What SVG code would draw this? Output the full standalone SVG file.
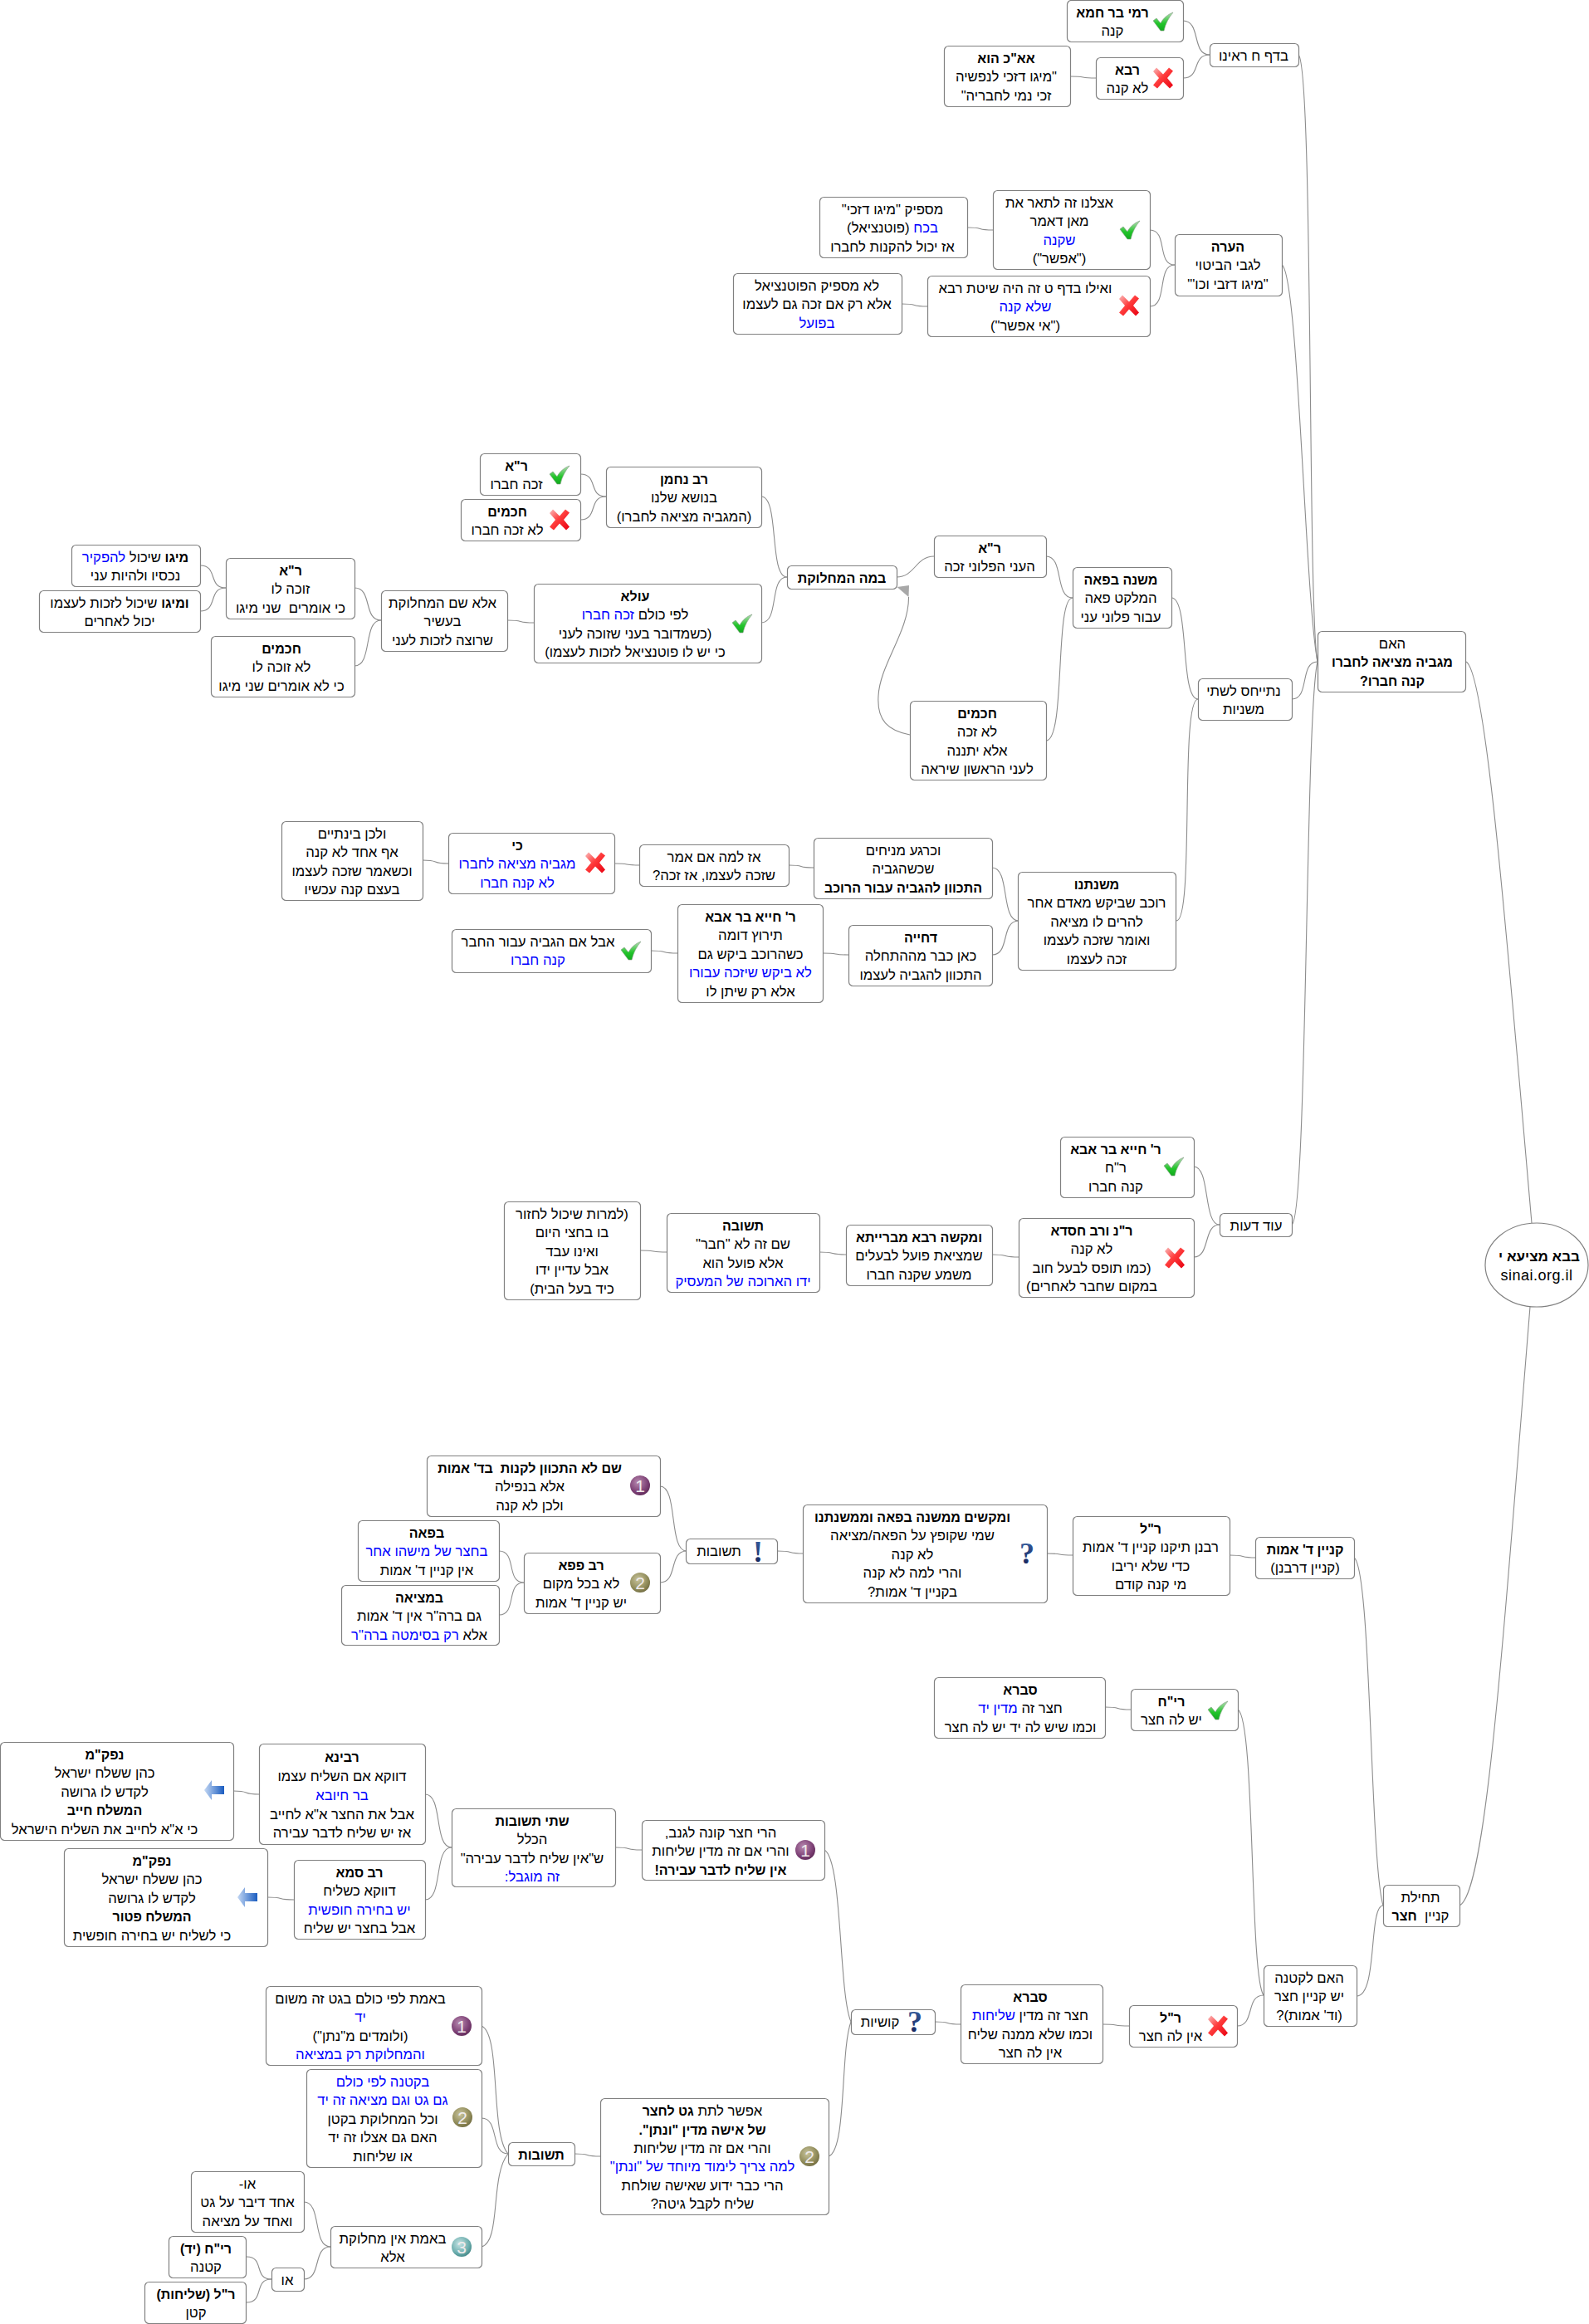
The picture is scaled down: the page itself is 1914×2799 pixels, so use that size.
<svg xmlns="http://www.w3.org/2000/svg" xmlns:xlink="http://www.w3.org/1999/xlink" width="1914" height="2799" viewBox="0 0 1914 2799">
<style>
text{font-family:"Liberation Sans","DejaVu Sans",sans-serif;font-size:16.7px;fill:#000;text-anchor:middle;direction:rtl;white-space:pre}
.b{font-weight:bold;font-size:16px}
.u{fill:#0000ff}
.box{fill:#fff;stroke:#808080;stroke-width:1.2;rx:5px;ry:5px}
.c{fill:none;stroke:#8c8c8c;stroke-width:1.1}
.num{fill:#f0ecec;font-size:21px;direction:ltr}
.q{font-family:"Liberation Serif",serif;font-weight:bold;font-size:36px;fill:url(#gq);direction:ltr}
</style>
<defs>
<linearGradient id="gc" x1="0" y1="0" x2="0" y2="1"><stop offset="0" stop-color="#b8dcb8"/><stop offset=".6" stop-color="#22c52a"/><stop offset="1" stop-color="#12a81e"/></linearGradient>
<linearGradient id="gx" x1="0" y1="0" x2="1" y2="1"><stop offset="0" stop-color="#f9bcbc"/><stop offset=".45" stop-color="#ff3c3c"/><stop offset="1" stop-color="#e80010"/></linearGradient>
<linearGradient id="gq" x1="0" y1="0" x2="0" y2="1"><stop offset="0" stop-color="#3a66a8"/><stop offset="1" stop-color="#101a50"/></linearGradient>
<linearGradient id="ga" x1="0" y1="0" x2="1" y2="0"><stop offset="0" stop-color="#c4d8f4"/><stop offset="1" stop-color="#1a5cc0"/></linearGradient>
<radialGradient id="g1" cx=".4" cy=".35" r=".7"><stop offset="0" stop-color="#b88ab0"/><stop offset=".7" stop-color="#7c3f74"/><stop offset="1" stop-color="#5e2a58"/></radialGradient>
<radialGradient id="g2" cx=".4" cy=".35" r=".7"><stop offset="0" stop-color="#c8c49c"/><stop offset=".7" stop-color="#8f8a58"/><stop offset="1" stop-color="#6f6a40"/></radialGradient>
<radialGradient id="g3" cx=".4" cy=".35" r=".7"><stop offset="0" stop-color="#c6e4e4"/><stop offset=".7" stop-color="#6aacac"/><stop offset="1" stop-color="#3f8484"/></radialGradient>
<path id="check" d="M-12 -1L-8 -4L-3 2C0 -4 6 -9 12 -11C7 -5 3 2 1 11L-3 11Z" fill="url(#gc)" stroke="#7d9a7d" stroke-width=".6"/>
<path id="cross" d="M-12 -8L-8 -12.5L0 -4.5L7 -12.5L12 -8.5L5 0L12 8.5L8 12.5L0 4.5L-7 12.5L-12 8.5L-5 0Z" fill="url(#gx)"/>
<path id="arrow" d="M-12 0L-3 -12V-5H12V5H-3V12Z" fill="url(#ga)"/>
<circle id="c1" r="12" fill="url(#g1)"/>
<circle id="c2" r="12" fill="url(#g2)"/>
<circle id="c3" r="12" fill="url(#g3)"/>
</defs>
<rect width="1914" height="2799" fill="#fff"/>
<g id="connectors">
<path class="c" d="M1425 25C1447 25 1435 66 1457 66"/>
<path class="c" d="M1425 94C1447 94 1435 66 1457 66"/>
<path class="c" d="M1289 92C1311 92 1298 94 1320 94"/>
<path class="c" d="M1385 277C1407 277 1393 319 1415 319"/>
<path class="c" d="M1385 369C1407 369 1393 319 1415 319"/>
<path class="c" d="M1165 274C1187 274 1174 277 1196 277"/>
<path class="c" d="M1086 366C1108 366 1095 369 1117 369"/>
<path class="c" d="M1260 670C1282 670 1270 720 1292 720"/>
<path class="c" d="M1260 892C1284 892 1270 720 1292 720"/>
<path class="c" d="M1411 720C1433 720 1421 842 1443 842"/>
<path class="c" d="M1417 1109C1439 1109 1421 842 1443 842"/>
<path class="c" d="M1556 842C1578 842 1565 797 1587 797"/>
<path class="c" d="M1564 66C1582 80 1575 740 1587 797"/>
<path class="c" d="M1544 319C1564 330 1572 720 1587 797"/>
<path class="c" d="M1556 1475C1575 1465 1572 860 1587 797"/>
<path class="c" d="M1766 797C1790 810 1815 1130 1845 1473"/>
<path class="c" d="M1758 2295C1790 2280 1810 1980 1843 1574"/>
<path class="c" d="M1080 695C1102 695 1103 670 1125 670"/>
<path class="c" d="M917 598C939 598 926 695 948 695"/>
<path class="c" d="M917 750C939 750 926 695 948 695"/>
<path class="c" d="M699 571C721 571 708 598 730 598"/>
<path class="c" d="M699 626C721 626 708 598 730 598"/>
<path class="c" d="M611 747C633 747 621 750 643 750"/>
<path class="c" d="M427 708C449 708 437 747 459 747"/>
<path class="c" d="M427 802C449 802 437 747 459 747"/>
<path class="c" d="M241 681C263 681 250 708 272 708"/>
<path class="c" d="M241 736C263 736 250 708 272 708"/>
<path class="c" d="M1096 885C1070 880 1056 868 1058 838C1060 800 1095 760 1094.5 719"/>
<polygon points="1080.5,707 1095,705 1094.5,719" fill="#a8a8a8"/>
<path class="c" d="M1195 1045C1217 1045 1205 1109 1227 1109"/>
<path class="c" d="M1195 1150C1217 1150 1205 1109 1227 1109"/>
<path class="c" d="M950 1042C972 1042 958 1045 980 1045"/>
<path class="c" d="M740 1040C762 1040 748 1042 770 1042"/>
<path class="c" d="M509 1036C531 1036 518 1040 540 1040"/>
<path class="c" d="M991 1148C1013 1148 1000 1150 1022 1150"/>
<path class="c" d="M784 1145C806 1145 794 1148 816 1148"/>
<path class="c" d="M1438 1405C1458 1405 1449 1475 1469 1475"/>
<path class="c" d="M1438 1514C1458 1514 1449 1475 1469 1475"/>
<path class="c" d="M1195 1511C1215 1511 1207 1514 1227 1514"/>
<path class="c" d="M987 1508C1007 1508 999 1511 1019 1511"/>
<path class="c" d="M771 1506C791 1506 783 1508 803 1508"/>
<path class="c" d="M1631 1876C1652 1890 1650 2240 1666 2295"/>
<path class="c" d="M1634 2404C1660 2404 1648 2295 1666 2295"/>
<path class="c" d="M1491 2059C1512 2070 1505 2380 1522 2403"/>
<path class="c" d="M1490 2440C1512 2440 1500 2403 1522 2403"/>
<path class="c" d="M1481 1873C1503 1873 1491 1876 1513 1876"/>
<path class="c" d="M1261 1871C1283 1871 1270 1873 1292 1873"/>
<path class="c" d="M936 1868C958 1868 946 1871 968 1871"/>
<path class="c" d="M795 1790C817 1790 805 1868 827 1868"/>
<path class="c" d="M795 1906C817 1906 805 1868 827 1868"/>
<path class="c" d="M601 1868C623 1868 609 1906 631 1906"/>
<path class="c" d="M601 1945C623 1945 609 1906 631 1906"/>
<path class="c" d="M1331 2056C1353 2056 1340 2059 1362 2059"/>
<path class="c" d="M993 2228C1015 2240 1010 2400 1025 2435"/>
<path class="c" d="M998 2597C1020 2590 1012 2470 1025 2435"/>
<path class="c" d="M1126 2435C1148 2435 1135 2438 1157 2438"/>
<path class="c" d="M1328 2438C1350 2438 1338 2440 1360 2440"/>
<path class="c" d="M741 2225C763 2225 751 2228 773 2228"/>
<path class="c" d="M512 2161C534 2161 522 2225 544 2225"/>
<path class="c" d="M512 2288C534 2288 522 2225 544 2225"/>
<path class="c" d="M281 2157C303 2157 290 2161 312 2161"/>
<path class="c" d="M322 2285C344 2285 332 2288 354 2288"/>
<path class="c" d="M692 2594C714 2594 701 2597 723 2597"/>
<path class="c" d="M580 2440C604 2450 590 2570 612 2594"/>
<path class="c" d="M580 2551C602 2551 590 2594 612 2594"/>
<path class="c" d="M580 2706C604 2700 590 2620 612 2594"/>
<path class="c" d="M366 2652C388 2652 376 2706 398 2706"/>
<path class="c" d="M366 2745C388 2745 376 2706 398 2706"/>
<path class="c" d="M297 2718C319 2718 305 2745 327 2745"/>
<path class="c" d="M297 2773C319 2773 305 2745 327 2745"/>
</g>

<g id="n01"><rect class="box" x="1285.5" y="0.5" width="140" height="50"/><text class="b" x="1340" y="21">רמי בר חמא</text><text x="1340" y="43">קנה</text><use href="#check" x="1401" y="26"/></g>
<g id="n02"><rect class="box" x="1320.5" y="69.5" width="105" height="50"/><text class="b" x="1358" y="90">רבא</text><text x="1358" y="112">לא קנה</text><use href="#cross" x="1401" y="94"/></g>
<g id="n03"><rect class="box" x="1137.5" y="55.5" width="152" height="73"/><text class="b" x="1212" y="76">אא"כ הוא</text><text x="1212" y="98">"מיגו דזכי לנפשיה</text><text x="1212" y="121">זכי נמי לחבריה"</text></g>
<g id="n04"><rect class="box" x="1457.5" y="52.5" width="107" height="28"/><text x="1510" y="73">בדף ח ראינו</text></g>
<g id="n05"><rect class="box" x="1196.5" y="229.5" width="189" height="95"/><text x="1276" y="250">אצלנו זה לתאר את</text><text x="1276" y="272">מאן דאמר</text><text class="u" x="1276" y="295">שקנה</text><text x="1276" y="317">("אפשר")</text><use href="#check" x="1361" y="277"/></g>
<g id="n06"><rect class="box" x="987.5" y="237.5" width="178" height="73"/><text x="1075" y="258">מספיק "מיגו דזכי"</text><text x="1075" y="280"><tspan class="u">בכח</tspan> (פוטנציאל)</text><text x="1075" y="303">אז יכול להקנות לחברו</text></g>
<g id="n07"><rect class="box" x="1415.5" y="282.5" width="129" height="74"/><text class="b" x="1479" y="303">הערה</text><text x="1479" y="325">לגבי הביטוי</text><text x="1479" y="348">"מיגו דזבי וכו'"</text></g>
<g id="n08"><rect class="box" x="1117.5" y="332.5" width="268" height="73"/><text x="1235" y="353">ואילו בדף ט זה היה שיטת רבא</text><text class="u" x="1235" y="375">שלא קנה</text><text x="1235" y="398">("אי אפשר")</text><use href="#cross" x="1360" y="368"/></g>
<g id="n09"><rect class="box" x="883.5" y="329.5" width="203" height="73"/><text x="984" y="350">לא מספיק הפוטנציאל</text><text x="984" y="372">אלא רק אם זכה גם לעצמו</text><text class="u" x="984" y="395">בפועל</text></g>

<g id="n10"><rect class="box" x="578.5" y="546.5" width="121" height="50"/><text class="b" x="622" y="567">ר"א</text><text x="622" y="589">זכה חברו</text><use href="#check" x="674" y="572"/></g>
<g id="n11"><rect class="box" x="555.5" y="601.5" width="144" height="50"/><text class="b" x="611" y="622">חכמים</text><text x="611" y="644">לא זכה חברו</text><use href="#cross" x="674" y="626"/></g>
<g id="n12"><rect class="box" x="730.5" y="562.5" width="187" height="73"/><text class="b" x="824" y="583">רב נחמן</text><text x="824" y="605">בנושא שלנו</text><text x="824" y="628">(המגביה מציאה לחברו)</text></g>
<g id="n13"><rect class="box" x="86.5" y="656.5" width="155" height="50"/><text x="163" y="677"><tspan class="b">מיגו</tspan> שיכול <tspan class="u">להפקיר</tspan></text><text x="163" y="699">נכסיו ולהיות עני</text></g>
<g id="n14"><rect class="box" x="47.5" y="711.5" width="194" height="50"/><text x="144" y="732"><tspan class="b">ומיגו</tspan> שיכול לזכות לעצמו</text><text x="144" y="754">יכול לאחרים</text></g>
<g id="n15"><rect class="box" x="272.5" y="672.5" width="155" height="73"/><text class="b" x="350" y="693">ר"א</text><text x="350" y="715">זוכה לו</text><text x="350" y="738">כי אומרים  שני מיגו</text></g>
<g id="n16"><rect class="box" x="254.5" y="766.5" width="173" height="73"/><text class="b" x="339" y="787">חכמים</text><text x="339" y="809">לא זוכה לו</text><text x="339" y="832">כי לא אומרים שני מיגו</text></g>
<g id="n17"><rect class="box" x="459.5" y="711.5" width="152" height="73"/><text x="533" y="732">אלא שם המחלוקת</text><text x="533" y="754">בעשיר</text><text x="533" y="777">שרוצה לזכות לעני</text></g>
<g id="n18"><rect class="box" x="643.5" y="703.5" width="274" height="95"/><text class="b" x="765" y="724">עולא</text><text x="765" y="746">לפי כולם <tspan class="u">זכה חברו</tspan></text><text x="765" y="769">(כשמדובר בעני שזוכה לעני</text><text x="765" y="791">כי יש לו פוטנציאל לזכות לעצמו)</text><use href="#check" x="894" y="751"/></g>
<g id="n19"><rect class="box" x="948.5" y="681.5" width="132" height="28"/><text class="b" x="1014" y="702">במה המחלוקת</text></g>
<g id="n20"><rect class="box" x="1125.5" y="645.5" width="135" height="50"/><text class="b" x="1192" y="666">ר"א</text><text x="1192" y="688">העני הפלוני זכה</text></g>
<g id="n21"><rect class="box" x="1292.5" y="683.5" width="119" height="73"/><text class="b" x="1350" y="704">משנה בפאה</text><text x="1350" y="726">המלקט פאה</text><text x="1350" y="749">עבור פלוני עני</text></g>
<g id="n22"><rect class="box" x="1096.5" y="844.5" width="164" height="95"/><text class="b" x="1177" y="865">חכמים</text><text x="1177" y="887">לא זכה</text><text x="1177" y="910">אלא יתננה</text><text x="1177" y="932">לעני הראשון שיראה</text></g>
<g id="n23"><rect class="box" x="1443.5" y="817.5" width="113" height="50"/><text x="1498" y="838">נתייחס לשתי</text><text x="1498" y="860">משניות</text></g>
<g id="n24"><rect class="box" x="1587.5" y="760.5" width="178" height="73"/><text x="1677" y="781">האם</text><text class="b" x="1677" y="803">מגביה מציאה לחברו</text><text class="b" x="1677" y="826">קנה חברו?</text></g>

<g id="n25"><rect class="box" x="980.5" y="1009.5" width="215" height="73"/><text x="1088" y="1030">וכרגע מניחים</text><text x="1088" y="1052">שכשהגביה</text><text class="b" x="1088" y="1075">התכוון להגביה עבור הרוכב</text></g>
<g id="n26"><rect class="box" x="1022.5" y="1114.5" width="173" height="73"/><text class="b" x="1109" y="1135">דחייה</text><text x="1109" y="1157">כאן כבר מההתחלה</text><text x="1109" y="1180">התכוון להגביה לעצמו</text></g>
<g id="n27"><rect class="box" x="1226.5" y="1050.5" width="190" height="118"/><text class="b" x="1321" y="1071">משנתנו</text><text x="1321" y="1093">רוכב שביקש מאדם אחר</text><text x="1321" y="1116">להרים לו מציאה</text><text x="1321" y="1138">ואומר שזכה לעצמו</text><text x="1321" y="1161">זכה לעצמו</text></g>
<g id="n28"><rect class="box" x="770.5" y="1017.5" width="180" height="50"/><text x="860" y="1038">אז למה אם אמר</text><text x="860" y="1060">שזכה לעצמו, אז זכה?</text></g>
<g id="n29"><rect class="box" x="540.5" y="1003.5" width="200" height="73"/><text class="b" x="623" y="1024">כי</text><text class="u" x="623" y="1046">מגביה מציאה לחברו</text><text class="u" x="623" y="1069">לא קנה חברו</text><use href="#cross" x="717" y="1039"/></g>
<g id="n30"><rect class="box" x="339.5" y="989.5" width="170" height="95"/><text x="424" y="1010">ולכן בינתיים</text><text x="424" y="1032">אף אחד לא קנה</text><text x="424" y="1055">וכשאמר שזכה לעצמו</text><text x="424" y="1077">בעצם קנה עכשיו</text></g>
<g id="n31"><rect class="box" x="816.5" y="1089.5" width="175" height="118"/><text class="b" x="904" y="1110">ר' חייא בר אבא</text><text x="904" y="1132">תירוץ דומה</text><text x="904" y="1155">כשהרוכב ביקש גם</text><text class="u" x="904" y="1177">לא ביקש שיזכה עבורו</text><text x="904" y="1200">אלא רק שיתן לו</text></g>
<g id="n32"><rect class="box" x="544.5" y="1119.5" width="240" height="52"/><text x="648" y="1140">אבל אם הגביה עבור החבר</text><text class="u" x="648" y="1162">קנה חברו</text><use href="#check" x="760" y="1145"/></g>

<g id="n33"><rect class="box" x="1277.5" y="1369.5" width="161" height="73"/><text class="b" x="1344" y="1390">ר' חייא בר אבא</text><text x="1344" y="1412">ר"ח</text><text x="1344" y="1435">קנה חברו</text><use href="#check" x="1414" y="1405"/></g>
<g id="n34"><rect class="box" x="1227.5" y="1467.5" width="211" height="95"/><text class="b" x="1315" y="1488">ר"נ ורב חסדא</text><text x="1315" y="1510">לא קנה</text><text x="1315" y="1533">(כמו תופס לבעל חוב</text><text x="1315" y="1555">במקום שחבר לאחרים)</text><use href="#cross" x="1415" y="1515"/></g>
<g id="n35"><rect class="box" x="1019.5" y="1475.5" width="176" height="73"/><text class="b" x="1107" y="1496">ומקשה רבא מברייתא</text><text x="1107" y="1518">שמציאת פועל לבעלים</text><text x="1107" y="1541">משמע שקנה חברו</text></g>
<g id="n36"><rect class="box" x="803.5" y="1461.5" width="184" height="95"/><text class="b" x="895" y="1482">תשובה</text><text x="895" y="1504">שם זה לא "חבר"</text><text x="895" y="1527">אלא פועל הוא</text><text class="u" x="895" y="1549">ידו הארוכה של המעסיק</text></g>
<g id="n37"><rect class="box" x="607.5" y="1447.5" width="164" height="118"/><text x="689" y="1468">(למרות שיכול לחזור</text><text x="689" y="1490">בו בחצי היום</text><text x="689" y="1513">ואינו עבד</text><text x="689" y="1535">אבל עדיין ידו</text><text x="689" y="1558">כיד בעל הבית)</text></g>
<g id="n38"><rect class="box" x="1469.5" y="1461.5" width="87" height="28"/><text x="1513" y="1482">עוד דעות</text></g>
<g id="root"><ellipse cx="1851" cy="1523.5" rx="62" ry="50.5" fill="#fff" stroke="#808080" stroke-width="1.2"/><text class="b" x="1854" y="1519" style="font-size:17px">בבא מציעא י</text><text x="1851" y="1542" style="direction:ltr;font-size:18px;letter-spacing:.5px">sinai.org.il</text></g>

<g id="n39"><rect class="box" x="1512.5" y="1851.5" width="119" height="50"/><text class="b" x="1572" y="1872">קניין ד' אמות</text><text x="1572" y="1894">(קניין דרבנן)</text></g>
<g id="n40"><rect class="box" x="1292.5" y="1826.5" width="189" height="95"/><text class="b" x="1386" y="1847">ר"ל</text><text x="1386" y="1869">רבנן תיקנו קניין ד' אמות</text><text x="1386" y="1892">כדי שלא יריבו</text><text x="1386" y="1914">מי קנה קודם</text></g>
<g id="n41"><rect class="box" x="967.5" y="1812.5" width="294" height="118"/><text class="b" x="1099" y="1833">ומקשים ממשנה בפאה וממשנתנו</text><text x="1099" y="1855">שמי שקופץ על הפאה/מציאה</text><text x="1099" y="1878">לא קנה</text><text x="1099" y="1900">והרי למה לא קנה</text><text x="1099" y="1923">בקניין ד' אמות?</text><text class="q" x="1237" y="1883">?</text></g>
<g id="n42"><rect class="box" x="826.5" y="1853.5" width="110" height="30"/><text x="866" y="1874">תשובות</text><text class="q" x="913" y="1881">!</text></g>
<g id="n43"><rect class="box" x="514.5" y="1753.5" width="281" height="73"/><text class="b" x="638" y="1774">שם לא התכוון לקנות  בד' אמות</text><text x="638" y="1796">אלא בנפילה</text><text x="638" y="1819">ולכן לא קנה</text><use href="#c1" x="771" y="1789"/><text class="num" x="771" y="1797">1</text></g>
<g id="n44"><rect class="box" x="631.5" y="1870.5" width="164" height="73"/><text class="b" x="700" y="1891">רב פפא</text><text x="700" y="1913">לא בכל מקום</text><text x="700" y="1936">יש קניין ד' אמות</text><use href="#c2" x="771" y="1906"/><text class="num" x="771" y="1914">2</text></g>
<g id="n45"><rect class="box" x="431.5" y="1831.5" width="170" height="73"/><text class="b" x="514" y="1852">בפאה</text><text class="u" x="514" y="1874">בחצר של מישהו אחר</text><text x="514" y="1897">אין קניין ד' אמות</text></g>
<g id="n46"><rect class="box" x="411.5" y="1909.5" width="190" height="72"/><text class="b" x="505" y="1930">במציאה</text><text x="505" y="1952">גם ברה"ר אין ד' אמות</text><text x="505" y="1975">אלא <tspan class="u">רק בסימטה ברה"ר</tspan></text></g>
<g id="n47"><rect class="box" x="1125.5" y="2020.5" width="206" height="73"/><text class="b" x="1229" y="2041">סברא</text><text x="1229" y="2063">חצר זה <tspan class="u">מדין יד</tspan></text><text x="1229" y="2086">וכמו שיש לה יד יש לה חצר</text></g>
<g id="n48"><rect class="box" x="1362.5" y="2034.5" width="129" height="50"/><text class="b" x="1411" y="2055">רי"ח</text><text x="1411" y="2077">יש לה חצר</text><use href="#check" x="1467" y="2060"/></g>

<g id="n49"><rect class="box" x="0.5" y="2098.5" width="281" height="118"/><text class="b" x="126" y="2119">נפק"מ</text><text x="126" y="2141">כהן ששלח ישראל</text><text x="126" y="2164">לקדש לו גרושה</text><text class="b" x="126" y="2186">המשלח חייב</text><text x="126" y="2209">כי א"א לחייב את השליח הישראל</text><use href="#arrow" x="258" y="2156"/></g>
<g id="n50"><rect class="box" x="312.5" y="2100.5" width="200" height="121"/><text class="b" x="412" y="2122">רבינא</text><text x="412" y="2145">דווקא אם השליח עצמו</text><text class="u" x="412" y="2168">בר חיובא</text><text x="412" y="2191">אבל את החצר א"א לחייב</text><text x="412" y="2213">אז יש שליח לדבר עבירה</text></g>
<g id="n51"><rect class="box" x="77.5" y="2226.5" width="245" height="118"/><text class="b" x="183" y="2247">נפק"מ</text><text x="183" y="2269">כהן ששלח ישראל</text><text x="183" y="2292">לקדש לו גרושה</text><text class="b" x="183" y="2314">המשלח פטור</text><text x="183" y="2337">כי לשליח יש בחירה חופשית</text><use href="#arrow" x="298" y="2285"/></g>
<g id="n52"><rect class="box" x="354.5" y="2240.5" width="158" height="95"/><text class="b" x="433" y="2261">רב סמא</text><text x="433" y="2283">דווקא כשליח</text><text class="u" x="433" y="2306">יש בחירה חופשית</text><text x="433" y="2328">אבל בחצר יש שליח</text></g>
<g id="n53"><rect class="box" x="544.5" y="2178.5" width="197" height="94"/><text class="b" x="641" y="2199">שתי תשובות</text><text x="641" y="2221">הכלל</text><text x="641" y="2244">ש"אין שליח לדבר עבירה"</text><text class="u" x="641" y="2266">זה מוגבל:</text></g>
<g id="n54"><rect class="box" x="773.5" y="2192.5" width="220" height="72"/><text x="868" y="2213">הרי חצר קונה לגנב,</text><text x="868" y="2235">והרי אם זה מדין שליחות</text><text class="b" x="868" y="2258">אין שליח לדבר עבירה!</text><use href="#c1" x="970" y="2228"/><text class="num" x="970" y="2236">1</text></g>

<g id="n55"><rect class="box" x="320.5" y="2392.5" width="260" height="95"/><text x="434" y="2413">באמת לפי כולם בגט זה משום</text><text class="u" x="434" y="2435">יד</text><text x="434" y="2458">(ולומדים מ"נתן")</text><text class="u" x="434" y="2480">והמחלוקת רק במציאה</text><use href="#c1" x="556" y="2440"/><text class="num" x="556" y="2448">1</text></g>
<g id="n56"><rect class="box" x="369.5" y="2492.5" width="211" height="118"/><text class="u" x="461" y="2513">בקטנה לפי כולם</text><text class="u" x="461" y="2535">גם גט וגם מציאה זה יד</text><text x="461" y="2558">וכל המחלוקת בקטן</text><text x="461" y="2580">האם גם אצלו זה יד</text><text x="461" y="2603">או שליחות</text><use href="#c2" x="557" y="2550"/><text class="num" x="557" y="2558">2</text></g>
<g id="n57"><rect class="box" x="230.5" y="2615.5" width="136" height="73"/><text x="298" y="2636">או-</text><text x="298" y="2658">אחד דיבר על גט</text><text x="298" y="2681">ואחד על מציאה</text></g>
<g id="n58"><rect class="box" x="203.5" y="2693.5" width="93" height="50"/><text class="b" x="248" y="2714">רי"ח (יד)</text><text x="248" y="2736">קטנה</text></g>
<g id="n59"><rect class="box" x="174.5" y="2748.5" width="122" height="50"/><text class="b" x="236" y="2769">ר"ל (שליחות)</text><text x="236" y="2791">קטן</text></g>
<g id="n60"><rect class="box" x="398.5" y="2681.5" width="182" height="50"/><text x="473" y="2702">באמת אין מחלוקת</text><text x="473" y="2724">אלא</text><use href="#c3" x="556" y="2706"/><text class="num" x="556" y="2714">3</text></g>
<g id="n61"><rect class="box" x="327.5" y="2731.5" width="39" height="28"/><text x="346" y="2752">או</text></g>
<g id="n62"><rect class="box" x="612.5" y="2580.5" width="80" height="28"/><text class="b" x="652" y="2601">תשובות</text></g>
<g id="n63"><rect class="box" x="723.5" y="2527.5" width="275" height="140"/><text x="846" y="2548">אפשר לתת <tspan class="b">גט לחצר</tspan></text><text class="b" x="846" y="2571">של אישה מדין "ונתן".</text><text x="846" y="2593">והרי אם זה מדין שליחות</text><text class="u" x="846" y="2615">למה צריך לימוד מיוחד של "ונתן"</text><text x="846" y="2638">הרי כבר ידוע שאישה שולחת</text><text x="846" y="2660">שליח לקבל גיטה?</text><use href="#c2" x="975" y="2597"/><text class="num" x="975" y="2605">2</text></g>
<g id="n64"><rect class="box" x="1025.5" y="2420.5" width="101" height="30"/><text x="1060" y="2441">קושיות</text><text class="q" x="1102" y="2447">?</text></g>
<g id="n65"><rect class="box" x="1157.5" y="2390.5" width="171" height="95"/><text class="b" x="1241" y="2411">סברא</text><text x="1241" y="2433">חצר זה מדין <tspan class="u">שליחות</tspan></text><text x="1241" y="2456">וכמו שלא ממנה שליח</text><text x="1241" y="2478">אין לה חצר</text></g>
<g id="n66"><rect class="box" x="1360.5" y="2415.5" width="130" height="50"/><text class="b" x="1410" y="2436">ר"ל</text><text x="1410" y="2458">אין לה חצר</text><use href="#cross" x="1467" y="2440"/></g>
<g id="n67"><rect class="box" x="1522.5" y="2367.5" width="112" height="73"/><text x="1577" y="2388">האם לקטנה</text><text x="1577" y="2410">יש קניין חצר</text><text x="1577" y="2433">(וד' אמות)?</text></g>
<g id="n68"><rect class="box" x="1666.5" y="2270.5" width="92" height="50"/><text x="1711" y="2291">תחילת</text><text x="1711" y="2313">קניין  <tspan class="b">חצר</tspan></text></g>
</svg>
